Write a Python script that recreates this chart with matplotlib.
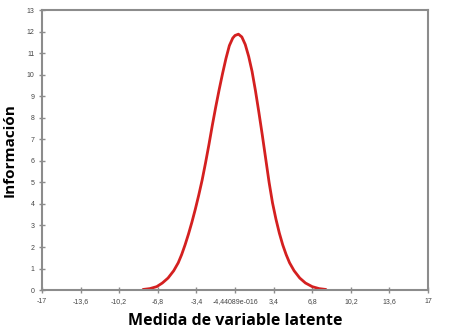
import matplotlib
matplotlib.use('Agg')
import matplotlib.pyplot as plt

# values
theta = [-8.1, -7.5, -6.9, -6.4, -5.9, -5.4, -5.0, -4.7, -4.4, -4.1, -3.8, -3.5, -3.2,
         -2.9, -2.6, -2.3, -2.0, -1.7, -1.4, -1.1, -0.8, -0.5, -0.2, 0.0, 0.3,
         0.6, 0.9, 1.2, 1.5, 1.8, 2.1, 2.4, 2.7, 3.0, 3.3, 3.6, 3.9, 4.2, 4.5,
         4.8, 5.2, 5.7, 6.2, 6.8, 7.4, 8.0]
info = [0.03, 0.07, 0.16, 0.33, 0.56, 0.9, 1.27, 1.65, 2.1, 2.6, 3.15, 3.75, 4.4,
        5.1, 5.9, 6.75, 7.65, 8.5, 9.3, 10.05, 10.75, 11.35, 11.7, 11.82, 11.88,
        11.75, 11.4, 10.85, 10.15, 9.25, 8.25, 7.2, 6.1, 5.0, 4.05, 3.3, 2.65, 2.1, 1.65,
        1.27, 0.9, 0.56, 0.33, 0.16, 0.07, 0.03]

xticks = [-17, -13.6, -10.2, -6.8, -3.4, 0, 3.4, 6.8, 10.2, 13.6, 17]
xlabels = ['-17', '-13,6', '-10,2', '-6,8', '-3,4', '-4,44089e-016',
           '3,4', '6,8', '10,2', '13,6', '17']
yticks = list(range(0, 14))

fig = plt.figure(figsize=(4.5, 3.35), dpi=100)
ax = fig.add_axes([0.0933, 0.134, 0.858, 0.836])

ax.plot(theta, info, color='#d42020', lw=2, solid_capstyle='round',
        solid_joinstyle='round')

ax.set_xlim(-17, 17)
ax.set_ylim(0, 13)
ax.set_xticks(xticks)
ax.set_xticklabels(xlabels)
ax.set_yticks(yticks)

for s in ax.spines.values():
    s.set_color('#8c8c8c')
    s.set_linewidth(1.5)

ax.tick_params(direction='inout', length=5, width=1, color='#8c8c8c',
               labelsize=5, labelcolor='#444444', pad=3)
for t in ax.get_xticklabels() + ax.get_yticklabels():
    t.set_family('Liberation Sans')

ax.set_xlabel('Medida de variable latente', fontsize=11.5, fontweight='bold',
              family='Open Sans', labelpad=6)
ax.set_ylabel('Información', fontsize=11, fontweight='bold', family='Open Sans')
ax.yaxis.set_label_coords(-0.066, 0.5)

fig.savefig('out.png', dpi=100)
